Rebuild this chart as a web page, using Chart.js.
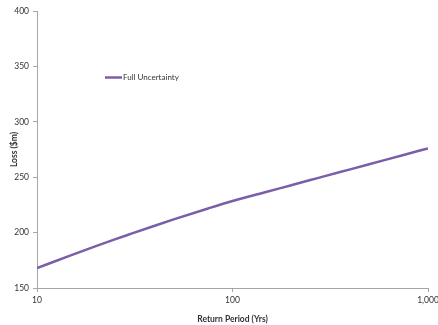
<!DOCTYPE html>
<html>
<head>
<meta charset="utf-8">
<script src="https://cdn.jsdelivr.net/npm/chart.js@4"></script>
<style>
  html, body { margin: 0; padding: 0; background: #fff; }
  #wrap { width: 438px; height: 325px; position: relative; }
</style>
</head>
<body>
<div id="wrap"><canvas id="c" width="438" height="325"></canvas></div>
<script>
// Return periods (years) and modelled loss ($m)
const returnPeriods = [10, 15, 20, 25, 30, 40, 50, 75, 100, 150, 200, 250, 300, 400, 500, 750, 1000];
const fullUncertainty = [168, 179.7, 187.8, 193.9, 198.7, 206.2, 211.9, 221.8, 228.5, 236.9, 242.8, 247.4, 251.2, 257.1, 261.7, 270.1, 276];
const xTickValues = [10, 100, 1000];
const xTickLabels = ['10', '100', '1,000'];
const yTickValues = [150, 200, 250, 300, 350, 400];

const seriesName = 'Full Uncertainty';
const lineColor = '#7b5ea7';
const axisColor = '#a6a6a6';
const textColor = '#333333';
const fontFamily = "Lato, 'Liberation Sans', Arial, sans-serif";

// Legend drawn inside the plot area, next to the line swatch
const insideLegend = {
  id: 'insideLegend',
  afterDraw(chart) {
    const ctx = chart.ctx;
    ctx.save();
    ctx.strokeStyle = lineColor;
    ctx.lineWidth = 2.5;
    ctx.beginPath();
    ctx.moveTo(105, 77.5);
    ctx.lineTo(122, 77.5);
    ctx.stroke();
    ctx.fillStyle = textColor;
    ctx.font = '8px ' + fontFamily;
    ctx.textBaseline = 'middle';
    ctx.fillText(seriesName, 123, 77.5);
    ctx.restore();
  }
};

new Chart(document.getElementById('c'), {
  type: 'line',
  data: {
    datasets: [{
      label: seriesName,
      data: returnPeriods.map((x, i) => ({ x: x, y: fullUncertainty[i] })),
      borderColor: lineColor,
      borderWidth: 2.5,
      pointRadius: 0,
      cubicInterpolationMode: 'monotone',
      fill: false
    }]
  },
  options: {
    responsive: false,
    animation: false,
    layout: { padding: { top: 11, right: 10, left: 0, bottom: 0 } },
    plugins: {
      legend: { display: false },
      tooltip: { enabled: false }
    },
    scales: {
      x: {
        type: 'logarithmic',
        min: 10,
        max: 1000,
        afterBuildTicks(scale) {
          scale.ticks = xTickValues.map(v => ({ value: v }));
        },
        afterFit(scale) {
          scale.height = 37;
          scale.paddingLeft = 0;
          scale.paddingRight = 0;
        },
        ticks: {
          autoSkip: false,
          maxRotation: 0,
          color: textColor,
          font: { family: fontFamily, size: 8.5 },
          padding: 3,
          callback(value) {
            const i = xTickValues.indexOf(value);
            return i >= 0 ? xTickLabels[i] : '';
          }
        },
        grid: {
          display: true,
          drawOnChartArea: false,
          drawTicks: true,
          tickLength: 4,
          color: axisColor
        },
        border: { display: true, color: axisColor, width: 1 },
        title: {
          display: true,
          text: 'Return Period (Yrs)',
          color: textColor,
          font: { family: fontFamily, size: 8.5, weight: 'bold' },
          padding: { top: 4, bottom: 1 }
        }
      },
      y: {
        min: 150,
        max: 400,
        afterBuildTicks(scale) {
          scale.ticks = yTickValues.map(v => ({ value: v }));
        },
        afterFit(scale) {
          scale.width = 37;
          scale.paddingTop = 0;
          scale.paddingBottom = 0;
        },
        ticks: {
          color: textColor,
          font: { family: fontFamily, size: 8.5 },
          padding: 4
        },
        grid: {
          display: true,
          drawOnChartArea: false,
          drawTicks: true,
          tickLength: 4,
          color: axisColor
        },
        border: { display: true, color: axisColor, width: 1 },
        title: {
          display: true,
          text: 'Loss ($m)',
          color: textColor,
          font: { family: fontFamily, size: 8.5, weight: 'bold' },
          padding: { top: 9, bottom: 2 }
        }
      }
    }
  },
  plugins: [insideLegend]
});
</script>
</body>
</html>
